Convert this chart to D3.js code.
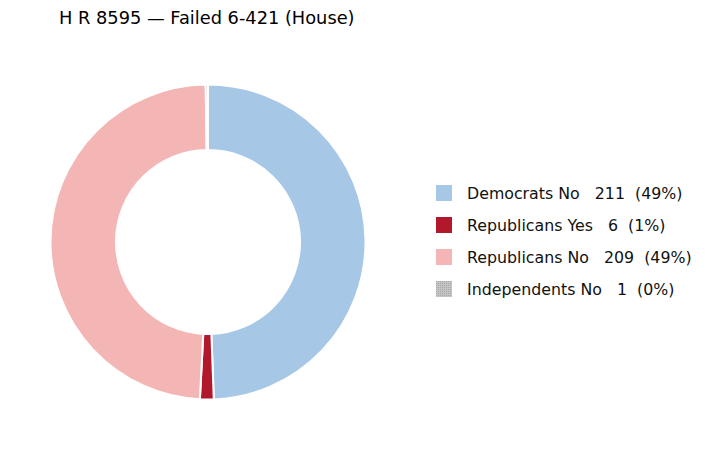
<!DOCTYPE html>
<html><head><meta charset="utf-8">
<script src="https://cdn.jsdelivr.net/npm/d3@7"></script>
<style>body{margin:0;background:#fff}svg{font-family:"DejaVu Sans",sans-serif}</style>
</head><body><svg></svg>
<script>
const labels = ["Democrats No", "Republicans Yes", "Republicans No", "Independents No"];
const counts = [211, 6, 209, 1];
const colors = ["#a7c7e7", "#b2182b", "#f4b6b4", "#bdbdbd"];

const width = 708, height = 450;
const svg = d3.select("svg").attr("width", width).attr("height", height);

// hatch for independents
const defs = svg.append("defs");
const pat = defs.append("pattern").attr("id", "hatch").attr("width", 2).attr("height", 2)
    .attr("patternUnits", "userSpaceOnUse");
pat.append("rect").attr("width", 2).attr("height", 2).attr("fill", "#c4c4c4");
pat.append("rect").attr("width", 1).attr("height", 1).attr("fill", "#a8a8a8");

svg.append("text").attr("x", 59).attr("y", 24).attr("font-size", 17.8).attr("fill", "#000")
    .text("H R 8595 \u2014 Failed 6-421 (House)");

const total = d3.sum(counts);
const pie = d3.pie().sort(null).value(d => d)(counts);
const arc = d3.arc().innerRadius(92).outerRadius(157.5);

const g = svg.append("g").attr("transform", "translate(208,242)");
g.selectAll("path").data(pie).enter().append("path")
    .attr("d", arc)
    .attr("fill", (d, i) => i === 3 ? "url(#hatch)" : colors[i])
    .attr("stroke", "#fff").attr("stroke-width", 2);

const yScale = d3.scalePoint().domain(labels).range([193, 289]);
const leg = svg.append("g");
const rows = leg.selectAll("g").data(labels).enter().append("g")
    .attr("transform", d => `translate(436,${yScale(d)})`);
rows.append("rect").attr("x", 0).attr("y", -8).attr("width", 16).attr("height", 16)
    .attr("fill", (d, i) => i === 3 ? "url(#hatch)" : colors[i]);
rows.append("text").attr("x", 31).attr("y", 5.5).attr("font-size", 15.8).attr("fill", "#111")
    .attr("xml:space", "preserve")
    .text((d, i) => `${d}   ${counts[i]}  (${Math.round(counts[i] / total * 100)}%)`);
</script></body></html>
